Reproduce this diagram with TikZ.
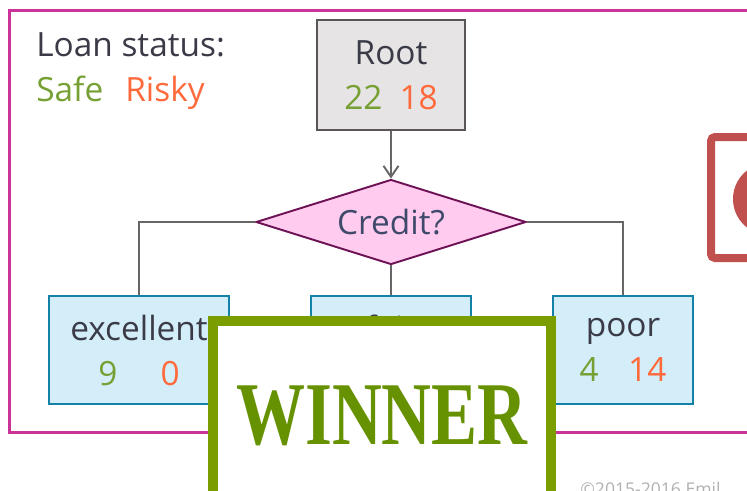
\documentclass[tikz,border=0pt]{standalone}
\usepackage{fontspec}
\usepackage{graphicx}
\setmainfont{Open Sans}
\newfontfamily\winnerfont{Liberation Serif}
\usetikzlibrary{positioning,shapes.geometric,arrows.meta}
\definecolor{safegreen}{HTML}{76A033}
\definecolor{riskyred}{HTML}{FF6A3D}
\definecolor{textdark}{HTML}{3B3B48}
\definecolor{credittext}{HTML}{3F4A6B}
\definecolor{rootfill}{HTML}{E6E4E4}
\definecolor{rootdraw}{HTML}{595555}
\definecolor{splitfill}{HTML}{FFCCF0}
\definecolor{splitdraw}{HTML}{6E1256}
\definecolor{leaffill}{HTML}{D3EEF9}
\definecolor{leafdraw}{HTML}{1482A8}
\definecolor{linegray}{HTML}{666666}
\definecolor{framecolor}{HTML}{CC3399}
\definecolor{winnerdraw}{HTML}{7A9E00}
\definecolor{winnertext}{HTML}{669100}
\definecolor{sidered}{HTML}{C0504D}
\definecolor{copygray}{HTML}{B0B0B0}
\newcommand{\safe}[1]{\textcolor{safegreen}{#1}}
\newcommand{\risky}[1]{\textcolor{riskyred}{#1}}
\begin{document}
\begin{tikzpicture}[
        node distance=2.5cm,
        font=\fontsize{19}{25.6}\selectfont,
        rootbox/.style={rectangle, draw=rootdraw, fill=rootfill, line width=1.6pt, minimum width=2.96cm, minimum height=2.2cm, align=center, text=textdark},
        split/.style={diamond, draw=splitdraw, fill=splitfill, line width=1.1pt, aspect=3.2, minimum width=5.4cm, minimum height=1.7cm, inner sep=0pt, text=credittext},
        leaf/.style={rectangle, draw=leafdraw, fill=leaffill, line width=1.6pt, minimum height=2.16cm, align=center, text=textdark},
        line/.style={draw=linegray, line width=1.1pt},
        arrow/.style={line, -{Straight Barb[length=0.22cm, width=0.3cm]}},
        frame/.style={draw=framecolor, line width=0.06cm},
        winner/.style={rectangle, draw=winnerdraw, fill=white, line width=0.2cm, minimum width=6.76cm, minimum height=3.78cm, inner sep=0pt, text=winnertext, font=\winnerfont\bfseries\fontsize{51}{51}\selectfont}
    ]
        \useasboundingbox (0,0) rectangle (14.94,-9.8);
        \draw [frame] (0.2,-0.2) rectangle (15.3,-8.64);

        \node [anchor=north west, align=left, text=textdark, inner sep=0pt] (legend) at (0.72,-0.64) {Loan status:\\\safe{Safe}\hspace{0.44cm}\risky{Risky}};

        \node [rootbox] (root) at (7.82,-1.5) {Root\\\safe{22}\hspace{0.34cm}\risky{18}};
        \node [split, below of=root, node distance=2.94cm] (credit) {Credit?};
        \node [leaf, minimum width=3.2cm, below of=credit, node distance=2.56cm] (fair) {fair\\\safe{9}\hspace{0.86cm}\risky{4}};
        \node [leaf, minimum width=3.6cm, left of=fair, node distance=5.04cm] (excellent) {excellent\\\safe{9}\hspace{0.86cm}\risky{0}};
        \node [leaf, minimum width=2.8cm, right of=fair, node distance=4.64cm] (poor) {poor\\\safe{4}\hspace{0.59cm}\risky{14}};

        \path [arrow] (root) -- (credit);
        \path [line] (credit.west) -| (excellent.north);
        \path [line] (credit.south) -- (fair.north);
        \path [line] (credit.east) -| (poor.north);

        % box at the right edge, mostly cut off
        \fill [sidered] (15.38,-3.98) circle (0.72cm);
        \draw [sidered, line width=0.16cm, rounded corners=0.08cm] (14.22,-2.74) rectangle (15.8,-5.16);

        \node [winner] (win) at (7.64,-8.31) {\scalebox{0.77}[1]{WINNER}};

        \node [anchor=north west, inner sep=0pt, text=copygray, font=\fontsize{10}{12}\selectfont] (copyright) at (11.6,-9.64) {©2015-2016 Emil};
    \end{tikzpicture}
\end{document}
